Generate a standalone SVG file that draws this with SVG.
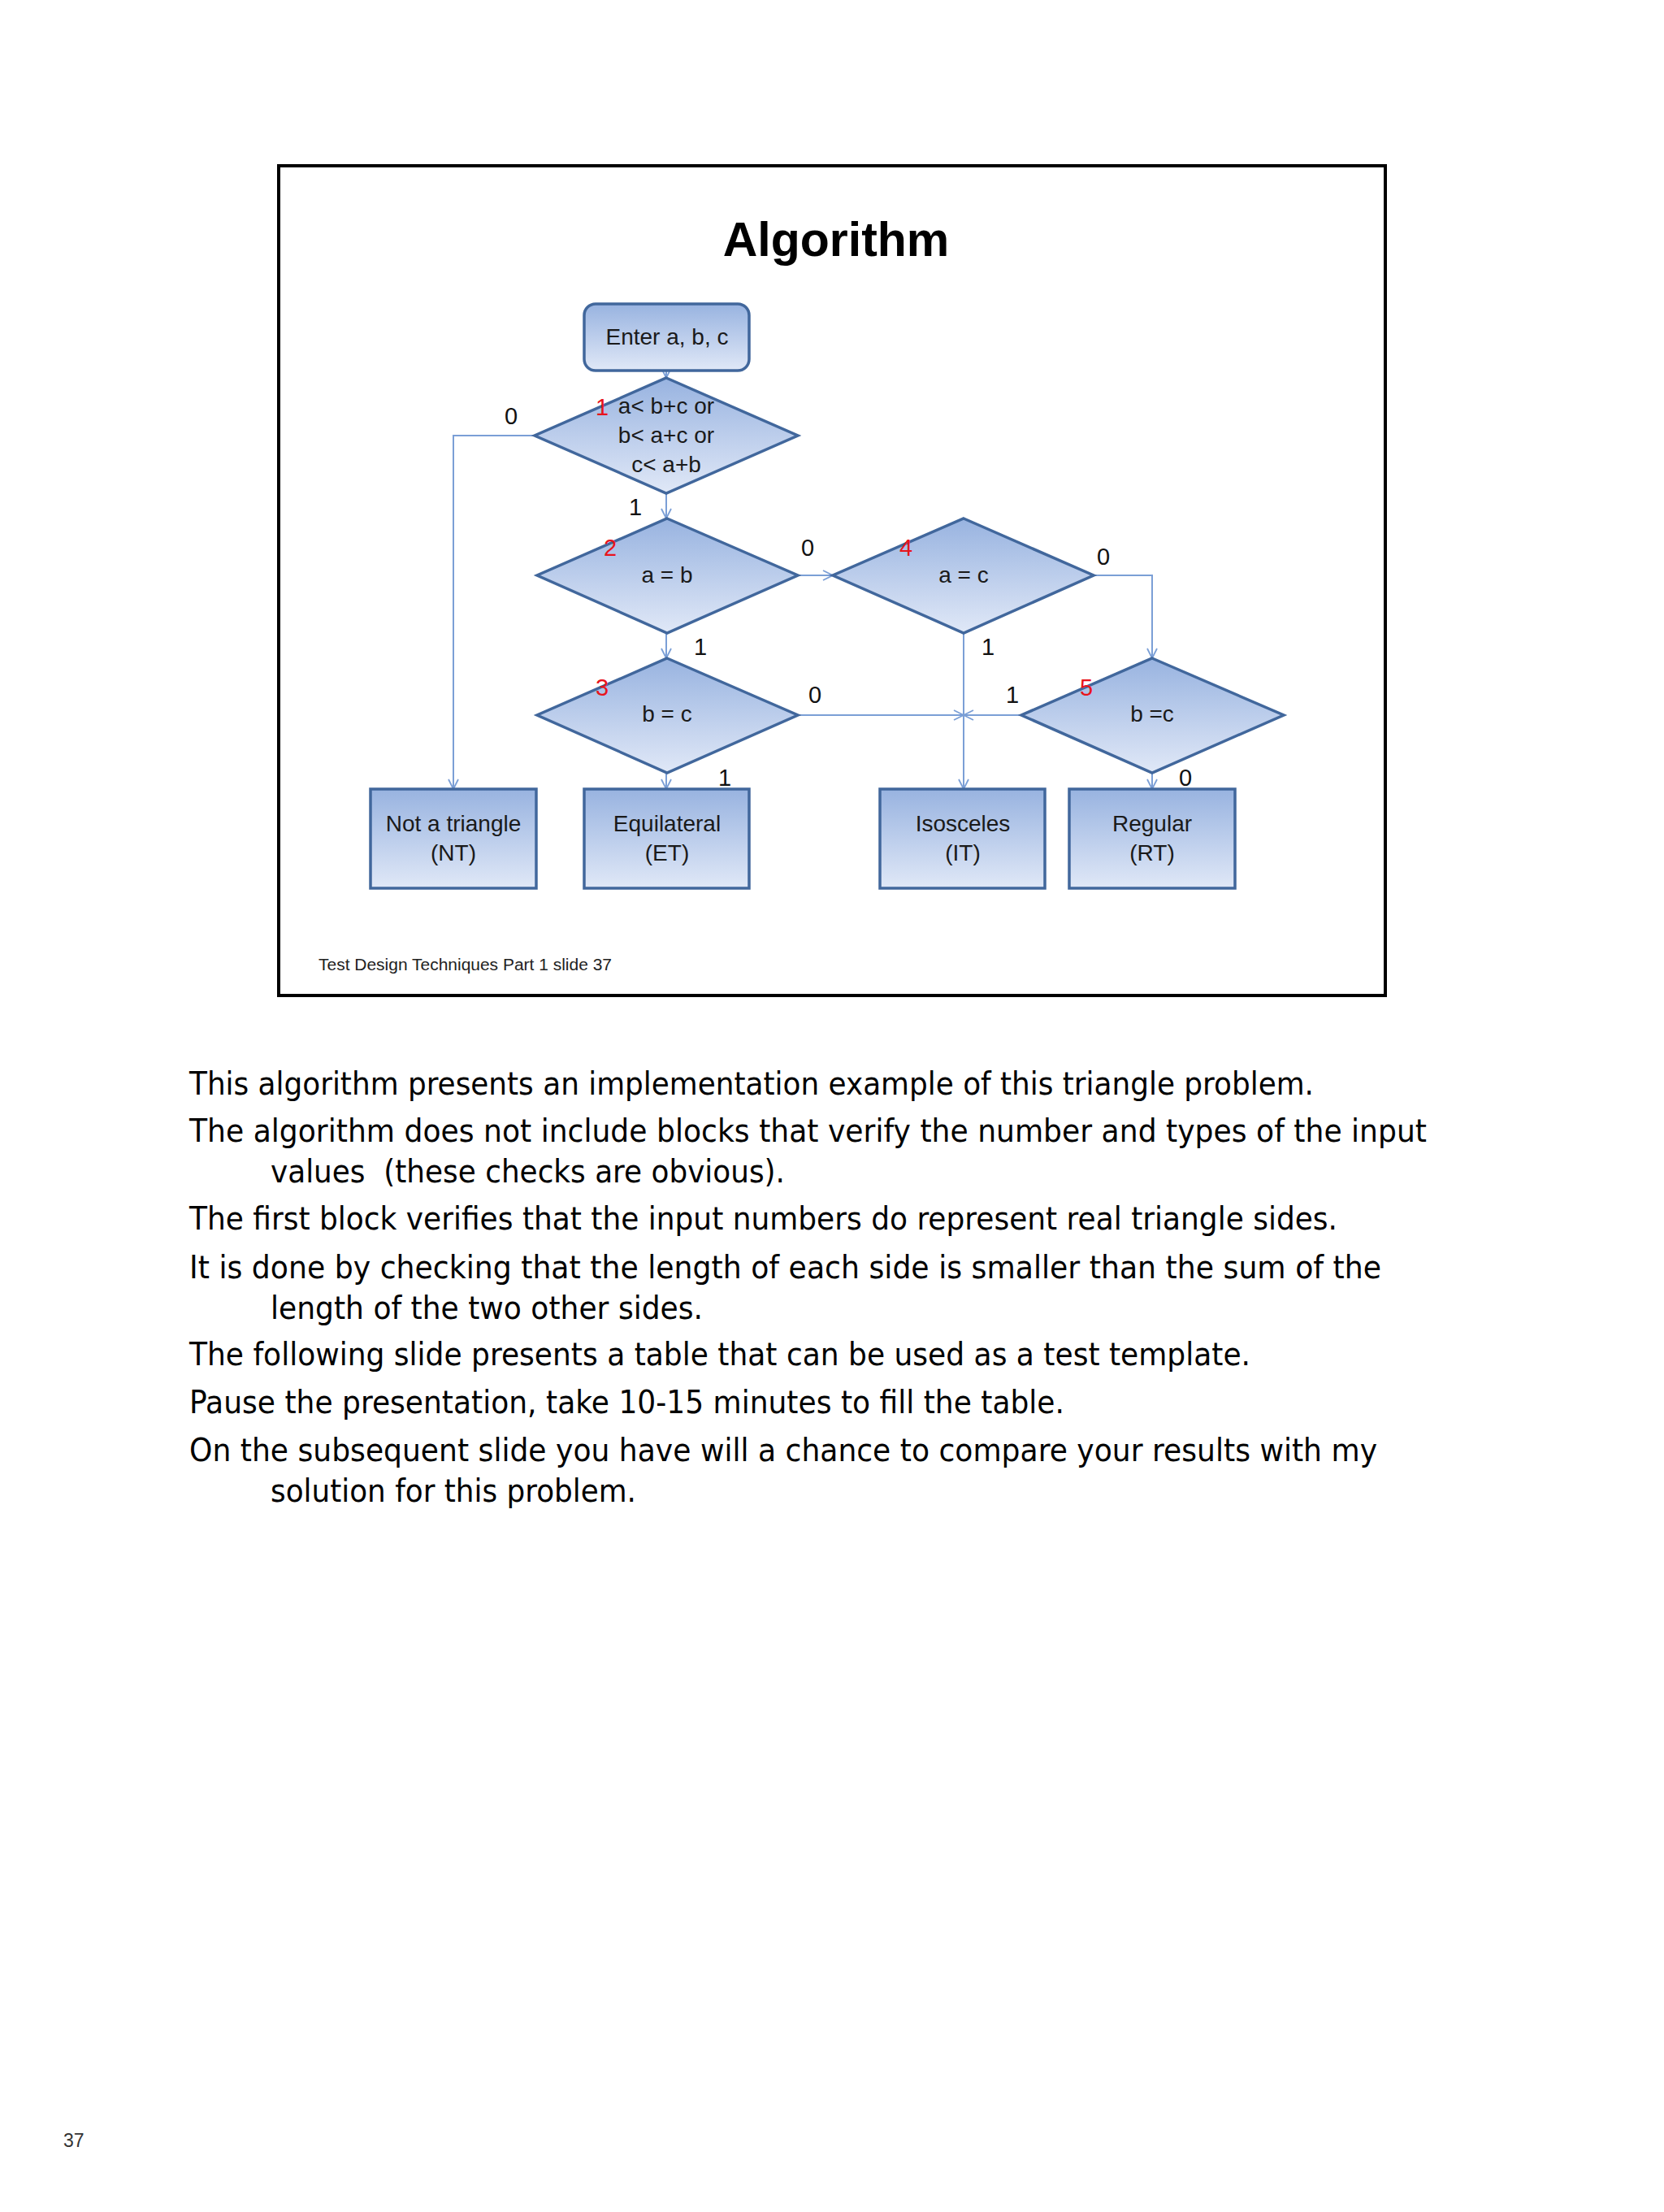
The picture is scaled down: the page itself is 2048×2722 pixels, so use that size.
<svg xmlns="http://www.w3.org/2000/svg" width="2048" height="2722" viewBox="0 0 2048 2722">
<style>
.shape{stroke:#41679c;stroke-width:3.5;fill:url(#g)}
.t{font-family:"Liberation Sans",Arial,sans-serif;font-size:28px;fill:#1a1a1a;text-anchor:middle}
.lbl{font-family:"Liberation Sans",Arial,sans-serif;font-size:29px;fill:#111;text-anchor:middle}
.red{font-family:"Liberation Sans",Arial,sans-serif;font-size:29px;fill:#e8141c;text-anchor:middle}
.conn path{fill:none;stroke:#7b9fd6;stroke-width:2}
.body{font-family:"DejaVu Sans",Verdana,sans-serif;font-size:39px;fill:#000;white-space:pre}
</style>
<defs>
<linearGradient id="g" x1="0" y1="0" x2="0" y2="1">
<stop offset="0" stop-color="#98b3e0"/>
<stop offset="1" stop-color="#e0e8f7"/>
</linearGradient>
<marker id="arr" viewBox="0 0 14 14" refX="13" refY="7" markerWidth="14" markerHeight="14" markerUnits="userSpaceOnUse" orient="auto">
<path d="M1,1 L13,7 L1,13" fill="none" stroke="#7b9fd6" stroke-width="1.8"/>
</marker>
</defs>
<rect width="2048" height="2722" fill="#ffffff"/>
<rect id="frame" x="343" y="204" width="1362" height="1021" fill="#ffffff" stroke="#000" stroke-width="4"/>
<text x="1029" y="315" font-family="Liberation Sans,Arial,sans-serif" font-size="59" font-weight="bold" text-anchor="middle" fill="#000">Algorithm</text>

<g class="conn" id="connectors">
<path d="M820,456 L820,465" marker-end="url(#arr)"/>
<path d="M658,536 L558,536 L558,971" marker-end="url(#arr)"/>
<path d="M820,607 L820,638" marker-end="url(#arr)"/>
<path d="M982,708 L1025,708" marker-end="url(#arr)"/>
<path d="M820,779 L820,810" marker-end="url(#arr)"/>
<path d="M1346,708 L1418,708 L1418,810" marker-end="url(#arr)"/>
<path d="M1186,779 L1186,971" marker-end="url(#arr)"/>
<path d="M982,880 L1186,880" marker-end="url(#arr)"/>
<path d="M1257,880 L1186,880" marker-end="url(#arr)"/>
<path d="M820,951 L820,971" marker-end="url(#arr)"/>
<path d="M1418,951 L1418,971" marker-end="url(#arr)"/>
</g>

<g id="n-enter">
<rect class="shape" x="719" y="374" width="203" height="82" rx="14"/>
<text class="t" x="821" y="424">Enter a, b, c</text>
</g>
<g id="n-d1">
<polygon class="shape" points="820,465 982,536 820,607 658,536"/>
<text class="t" x="820" y="509">a&lt; b+c or</text>
<text class="t" x="820" y="545">b&lt; a+c or</text>
<text class="t" x="820" y="581">c&lt; a+b</text>
<text class="red" x="741" y="511">1</text>
</g>
<g id="n-d2">
<polygon class="shape" points="821,638 982,708 821,779 661,708"/>
<text class="t" x="821" y="717">a = b</text>
<text class="red" x="751" y="684">2</text>
</g>
<g id="n-d4">
<polygon class="shape" points="1186,638 1346,708 1186,779 1025,708"/>
<text class="t" x="1186" y="717">a = c</text>
<text class="red" x="1115" y="684">4</text>
</g>
<g id="n-d3">
<polygon class="shape" points="821,810 982,880 821,951 661,880"/>
<text class="t" x="821" y="888">b = c</text>
<text class="red" x="741" y="856">3</text>
</g>
<g id="n-d5">
<polygon class="shape" points="1418,810 1580,880 1418,951 1257,880"/>
<text class="t" x="1418" y="888">b =c</text>
<text class="red" x="1337" y="856">5</text>
</g>
<g id="n-nt">
<rect class="shape" x="456" y="971" width="204" height="122"/>
<text class="t" x="558" y="1023">Not a triangle</text>
<text class="t" x="558" y="1059">(NT)</text>
</g>
<g id="n-et">
<rect class="shape" x="719" y="971" width="203" height="122"/>
<text class="t" x="821" y="1023">Equilateral</text>
<text class="t" x="821" y="1059">(ET)</text>
</g>
<g id="n-it">
<rect class="shape" x="1083" y="971" width="203" height="122"/>
<text class="t" x="1185" y="1023">Isosceles</text>
<text class="t" x="1185" y="1059">(IT)</text>
</g>
<g id="n-rt">
<rect class="shape" x="1316" y="971" width="204" height="122"/>
<text class="t" x="1418" y="1023">Regular</text>
<text class="t" x="1418" y="1059">(RT)</text>
</g>

<g id="labels">
<text class="lbl" x="629" y="522">0</text>
<text class="lbl" x="782" y="634">1</text>
<text class="lbl" x="994" y="684">0</text>
<text class="lbl" x="862" y="806">1</text>
<text class="lbl" x="1358" y="695">0</text>
<text class="lbl" x="1216" y="806">1</text>
<text class="lbl" x="1003" y="865">0</text>
<text class="lbl" x="1246" y="865">1</text>
<text class="lbl" x="892" y="967">1</text>
<text class="lbl" x="1459" y="967">0</text>
</g>

<text x="392" y="1194" font-family="Liberation Sans,Arial,sans-serif" font-size="20" fill="#222" textLength="361" lengthAdjust="spacingAndGlyphs">Test Design Techniques Part 1 slide 37</text>

<g id="notes">
<text class="body" x="233" y="1347" textLength="1384" lengthAdjust="spacingAndGlyphs">This algorithm presents an implementation example of this triangle problem.</text>
<text class="body" x="233" y="1405" textLength="1523" lengthAdjust="spacingAndGlyphs">The algorithm does not include blocks that verify the number and types of the input</text>
<text class="body" x="333" y="1455" textLength="633" lengthAdjust="spacingAndGlyphs">values  (these checks are obvious).</text>
<text class="body" x="233" y="1513" textLength="1413" lengthAdjust="spacingAndGlyphs">The first block verifies that the input numbers do represent real triangle sides.</text>
<text class="body" x="233" y="1573" textLength="1467" lengthAdjust="spacingAndGlyphs">It is done by checking that the length of each side is smaller than the sum of the</text>
<text class="body" x="333" y="1623" textLength="532" lengthAdjust="spacingAndGlyphs">length of the two other sides.</text>
<text class="body" x="233" y="1680" textLength="1306" lengthAdjust="spacingAndGlyphs">The following slide presents a table that can be used as a test template.</text>
<text class="body" x="233" y="1739" textLength="1077" lengthAdjust="spacingAndGlyphs">Pause the presentation, take 10-15 minutes to fill the table.</text>
<text class="body" x="233" y="1798" textLength="1462" lengthAdjust="spacingAndGlyphs">On the subsequent slide you have will a chance to compare your results with my</text>
<text class="body" x="333" y="1848" textLength="450" lengthAdjust="spacingAndGlyphs">solution for this problem.</text>
</g>

<text x="78" y="2642" font-family="Liberation Sans,Arial,sans-serif" font-size="23" fill="#333">37</text>
</svg>
